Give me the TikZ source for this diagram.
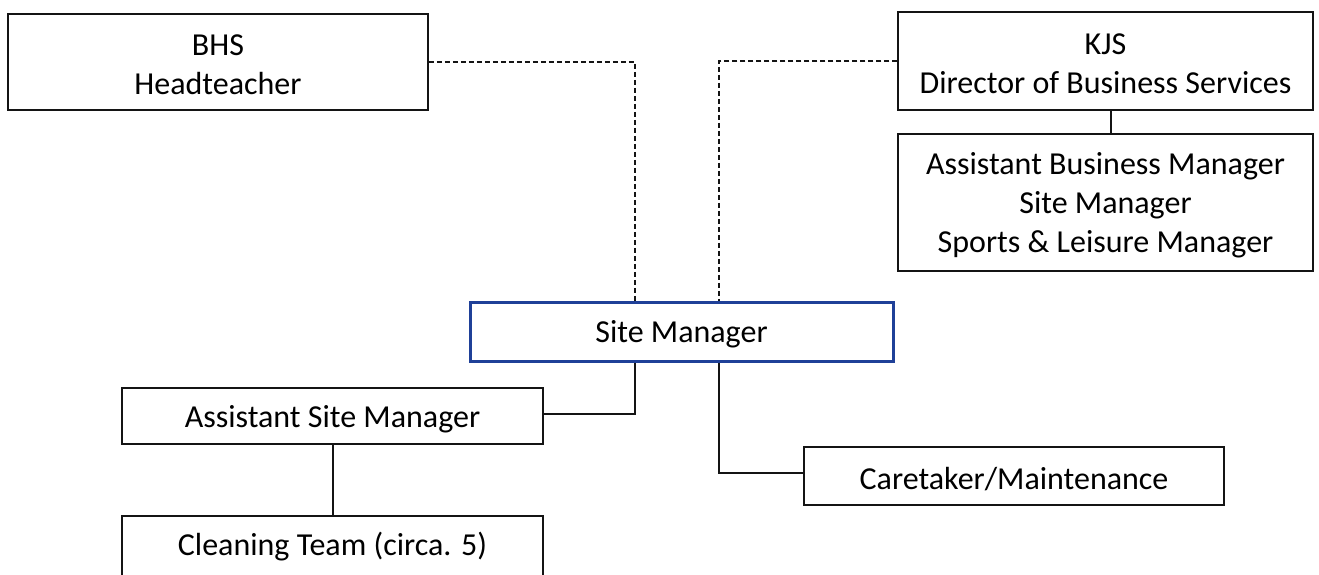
\documentclass[tikz,border=0pt]{standalone}
\usepackage{fontspec}
\setmainfont{Carlito}
\definecolor{smblue}{RGB}{31,64,152}
\definecolor{boxline}{RGB}{20,20,20}
\begin{document}
\begin{tikzpicture}[x=1pt,y=-1pt,
  orgbox/.style={draw=boxline, line width=1.5pt, rectangle, inner sep=0pt},
  mainbox/.style={orgbox, draw=smblue, line width=3pt},
  opentop/.style={rectangle, inner sep=0pt},
  boxtext/.style={inner sep=0pt, align=center, yshift=-3pt, font=\fontsize{32}{39}\selectfont},
  solidlink/.style={draw=boxline, line width=1.2pt},
  dashlink/.style={draw=boxline, line width=1.2pt, dash pattern=on 5pt off 3pt}]
\useasboundingbox (0,0) rectangle (1319,574);
\fill[white] (0,0) rectangle (1319,574);
\node[orgbox, minimum width=420pt, minimum height=96pt] (bhs) at (218,62) {};
\node[boxtext] (bhs-t) at (bhs.center) {BHS\\Headteacher};
\node[orgbox, minimum width=415pt, minimum height=98pt] (kjs) at (1105.5,61) {};
\node[boxtext] (kjs-t) at (kjs.center) {KJS\\Director of Business Services};
\node[orgbox, minimum width=415pt, minimum height=137pt] (abm) at (1105.5,202.5) {};
\node[boxtext] (abm-t) at (abm.center) {Assistant Business Manager\\Site Manager\\Sports \& Leisure Manager};
\node[mainbox, minimum width=423pt, minimum height=59pt] (sm) at (681.5,331.5) {};
\node[boxtext] (sm-t) at (sm.center) {Site Manager};
\node[orgbox, minimum width=421pt, minimum height=56pt] (asm) at (332.5,416) {};
\node[boxtext] (asm-t) at (asm.center) {Assistant Site Manager};
\node[orgbox, minimum width=420pt, minimum height=58pt] (cm) at (1014,476) {};
\node[boxtext] (cm-t) at (cm.center) {Caretaker/Maintenance};
\node[opentop, minimum width=421pt, minimum height=56pt] (ct) at (332.5,544) {};
\node[boxtext] (ct-t) at (ct.center) {Cleaning Team (circa. 5)};
\draw[draw=boxline, line width=1.5pt] ([yshift=-40pt]ct.south west) -- (ct.north west) -- (ct.north east) -- ([yshift=-40pt]ct.south east);
\coordinate (xa) at (635,0);
\coordinate (xb) at (719,0);
\coordinate (xc) at (1111,0);
\coordinate (xd) at (333,0);
\draw[dashlink] (bhs.east) -| (xa |- sm.north);
\draw[dashlink] (kjs.west) -| (xb |- sm.north);
\draw[solidlink] (xc |- kjs.south) -- (xc |- abm.north);
\draw[solidlink] (xa |- sm.south) |- ([yshift=2pt]asm.east);
\draw[solidlink] (xb |- sm.south) |- ([yshift=3pt]cm.west);
\draw[solidlink] (xd |- asm.south) -- (xd |- ct.north);
\end{tikzpicture}
\end{document}
